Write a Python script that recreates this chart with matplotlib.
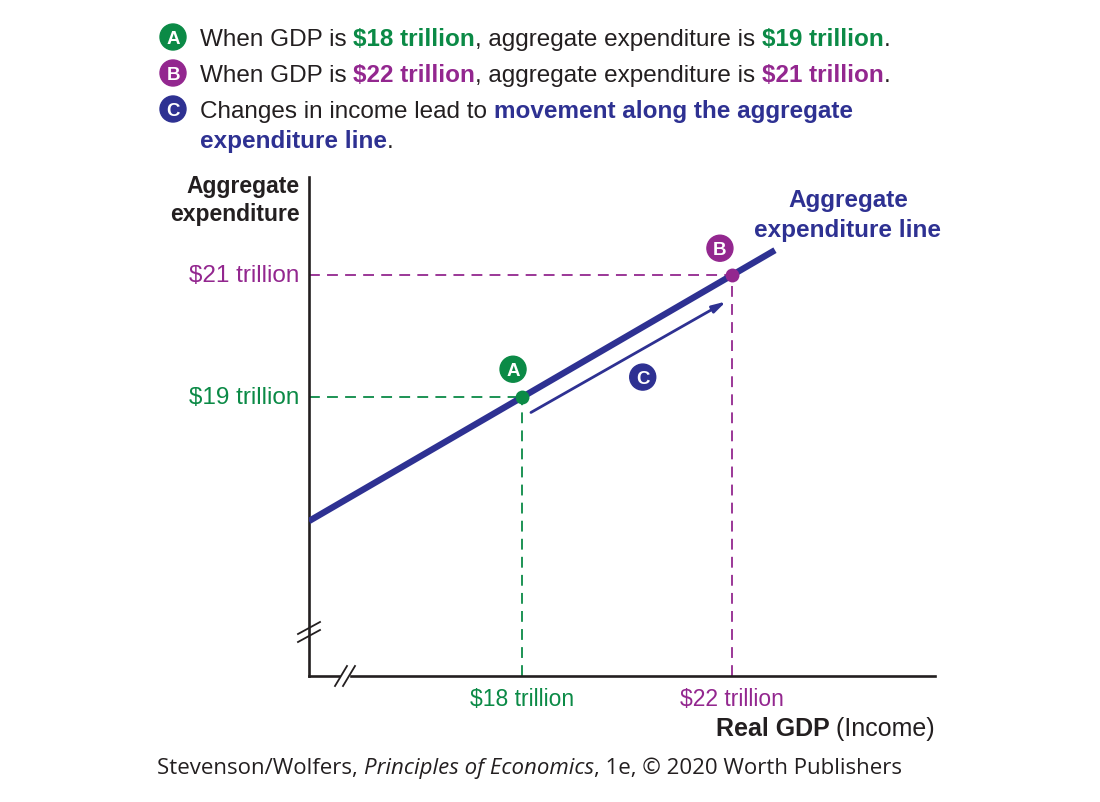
import matplotlib
matplotlib.use("Agg")
import matplotlib.pyplot as plt
from matplotlib.patches import Circle

plt.rcParams['font.family'] = ['Liberation Sans', 'DejaVu Sans']

GREEN = '#0b8a46'
PURPLE = '#93278f'
BLUE = '#2e3192'
BLACK = '#231f20'

# data
gdp_points = [18, 22]
ae_points = [19, 21]
line_x = [13.94, 22.82]
slope = 0.5
intercept = 10.0
arrow_start = (18.17, 18.75)
arrow_end = (21.89, 20.57)
c_label_pos = (20.30, 19.33)
x_ticklabels = ['$18 trillion', '$22 trillion']
y_ticklabels = ['$19 trillion', '$21 trillion']
point_colors = [GREEN, PURPLE]
point_labels = ['A', 'B']
label_offsets = [(-9, -28), (-12, -27)]   # pixel offsets of badges from points

W, H = 1100, 803
fig = plt.figure(figsize=(W / 100, H / 100), dpi=100)

def px(x0, y0, x1, y1):
    return [x0 / W, 1 - y1 / H, (x1 - x0) / W, (y1 - y0) / H]

ax = fig.add_axes(px(309, 178, 935, 677))
XMIN, XMAX, YMIN, YMAX = 13.94, 25.87, 14.43, 22.61
ax.set_xlim(XMIN, XMAX)
ax.set_ylim(YMIN, YMAX)
for s in ['top', 'right']:
    ax.spines[s].set_visible(False)
for s in ['left', 'bottom']:
    ax.spines[s].set_linewidth(1.9)
    ax.spines[s].set_color(BLACK)
ax.set_xticks([])
ax.set_yticks([])

# aggregate expenditure line
ly = [intercept + slope * v for v in line_x]
ax.plot(line_x, ly, color=BLUE, lw=4.6, solid_capstyle='butt', zorder=3)

# dashed guides and points
for gx, gy, c in zip(gdp_points, ae_points, point_colors):
    ax.plot([XMIN, gx], [gy, gy], ls=(0, (6, 4)), color=c, lw=1.3, zorder=2)
    ax.plot([gx, gx], [YMIN, gy], ls=(0, (6, 4)), color=c, lw=1.3, zorder=2)
    ax.scatter([gx], [gy], s=100, color=c, zorder=5, linewidths=0)

# movement arrow C
ax.annotate('', xy=arrow_end, xytext=arrow_start,
            arrowprops=dict(arrowstyle='-|>,head_length=0.8,head_width=0.22',
                            color=BLUE, lw=2.0, shrinkA=0, shrinkB=0), zorder=4)

# tick labels
for v, t, c in zip(gdp_points, x_ticklabels, point_colors):
    ax.annotate(t, (v, YMIN), xytext=(0, -16.5), textcoords='offset points',
                ha='center', va='center', color=c, fontsize=16.5)
for v, t, c in zip(ae_points, y_ticklabels, point_colors):
    ax.annotate(t, (XMIN, v), xytext=(-7, 0), textcoords='offset points',
                ha='right', va='center', color=c, fontsize=17.5)

# overlay in pixel coordinates for annotations
ov = fig.add_axes([0, 0, 1, 1], zorder=10)
ov.set_xlim(0, W)
ov.set_ylim(H, 0)
ov.axis('off')
ov.patch.set_alpha(0)

def to_px(xy):
    disp = ax.transData.transform(xy)
    return ov.transData.inverted().transform(disp)

def badge(x, y, lab, c, r=13, fs=13.5):
    ov.add_patch(Circle((x, y), r, color=c, zorder=3))
    ov.text(x, y + 1, lab, ha='center', va='center', color='white',
            fontsize=fs, fontweight='bold', zorder=4)

for gx, gy, c, lab, off in zip(gdp_points, ae_points, point_colors, point_labels, label_offsets):
    p = to_px((gx, gy))
    badge(p[0] + off[0], p[1] + off[1], lab, c)
pc = to_px(c_label_pos)
badge(pc[0], pc[1], 'C', BLUE)

# axis break marks
for d in (-4, 4):
    ov.plot([298, 320], [633 + d + 6, 633 + d - 6], color=BLACK, lw=1.3)
    ov.plot([345 + d - 6, 345 + d + 6], [687, 667], color=BLACK, lw=1.3)
ov.fill_between([341, 349], 675, 679, color='white', zorder=1)

# axis titles
ov.text(300, 186, 'Aggregate', ha='right', va='center', fontsize=16.5,
        fontweight='bold', color=BLACK)
ov.text(300, 214, 'expenditure', ha='right', va='center', fontsize=16.5,
        fontweight='bold', color=BLACK)
ov.text(848, 201, 'Aggregate', ha='center', va='center', fontsize=17.5,
        fontweight='bold', color=BLUE)
ov.text(848, 230, 'expenditure line', ha='center', va='center', fontsize=17.5,
        fontweight='bold', color=BLUE)

renderer = fig.canvas.get_renderer()

def rich(x, y, pieces, size=16):
    for txt, col, bold in pieces:
        t = ov.text(x, y, txt, ha='left', va='baseline', fontsize=size,
                    color=col, fontweight='bold' if bold else 'normal')
        x += t.get_window_extent(renderer).width

def rich_right(xr, y, pieces, size=16):
    total = 0
    for txt, col, bold in pieces:
        t = ov.text(0, y, txt, fontsize=size, fontweight='bold' if bold else 'normal')
        total += t.get_window_extent(renderer).width
        t.remove()
    rich(xr - total, y, pieces, size)

rich_right(935, 736, [('Real GDP', BLACK, True), (' (Income)', BLACK, False)], size=18)

# header
HS = 17.5
badge(173, 38, 'A', GREEN)
badge(173, 74, 'B', PURPLE)
badge(173, 110, 'C', BLUE)
rich(200, 46, [('When GDP is ', BLACK, False), ('$18 trillion', GREEN, True),
               (', aggregate expenditure is ', BLACK, False),
               ('$19 trillion', GREEN, True), ('.', BLACK, False)], HS)
rich(200, 82, [('When GDP is ', BLACK, False), ('$22 trillion', PURPLE, True),
               (', aggregate expenditure is ', BLACK, False),
               ('$21 trillion', PURPLE, True), ('.', BLACK, False)], HS)
rich(200, 118, [('Changes in income lead to ', BLACK, False),
                ('movement along the aggregate', BLUE, True)], HS)
rich(200, 148, [('expenditure line', BLUE, True), ('.', BLACK, False)], HS)

# footer
fx = 157
for txt, style in [('Stevenson/Wolfers, ', 'normal'), ('Principles of Economics', 'italic'),
                   (', 1e, \u00a9 2020 Worth Publishers', 'normal')]:
    t = ov.text(fx, 774, txt, ha='left', va='baseline', fontsize=16,
                family=['Open Sans', 'DejaVu Sans'], style=style, color=BLACK)
    fx += t.get_window_extent(renderer).width

fig.savefig('out.png', dpi=100)
